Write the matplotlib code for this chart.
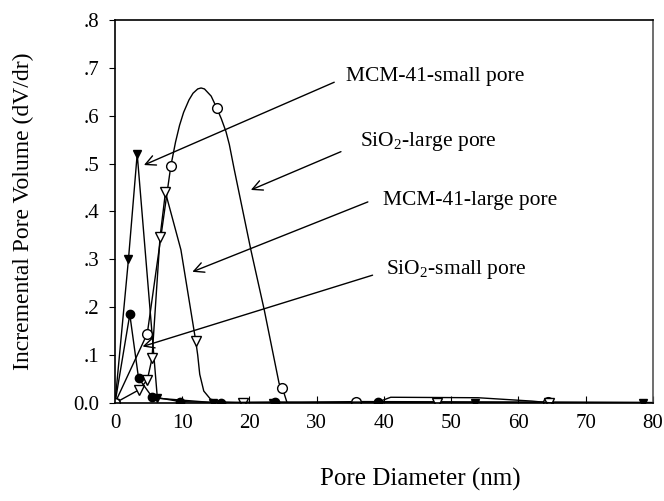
import matplotlib
matplotlib.use("Agg")
import matplotlib.pyplot as plt

plt.rcParams["font.family"] = ["Liberation Serif", "DejaVu Serif"]
plt.rcParams["mathtext.fontset"] = "custom"
plt.rcParams["mathtext.rm"] = "Liberation Serif"

# MCM-41 small pore (filled down triangles)
x_mcm_small = [0, 2.0, 3.3, 6.3, 14.5, 23.5, 35.9, 53.5, 78.5]
y_mcm_small = [0, 0.30, 0.52, 0.01, 0.001, 0.001, 0.001, 0.001, 0.001]

# SiO2 large pore (open circles), smooth curve
x_sio2_large = [0, 4.8, 8.3, 9.0, 9.6, 10.2, 11.0, 11.6, 12.3, 12.8, 13.3, 14.3, 15.1,
                15.8, 16.5, 17.0, 17.7, 20.2, 22.2, 24.4, 24.9, 25.6, 35.9, 64.4, 80]
y_sio2_large = [0, 0.145, 0.495, 0.545, 0.58, 0.607, 0.633, 0.647, 0.656, 0.658,
                0.656, 0.641, 0.617, 0.594, 0.567, 0.54, 0.49, 0.32, 0.194, 0.041,
                0.031, 0.0, 0.003, 0.002, 0.001]
mk_sio2_large = [0, 1, 2, 12, 20, 22, 23]

# MCM-41 large pore (open down triangles)
x_mcm_large = [0, 3.5, 4.8, 5.5, 6.7, 7.5, 9.8, 12.0, 12.3, 12.6, 13.2, 14.2, 16.0,
               19.1, 47.9, 64.5, 80]
y_mcm_large = [0, 0.027, 0.048, 0.093, 0.347, 0.44, 0.32, 0.13, 0.10, 0.06, 0.025,
               0.008, 0.002, 0.0, 0.0, 0.0, 0.0]
mk_mcm_large = [1, 2, 3, 4, 5, 7, 13, 14, 15]

# SiO2 small pore (filled circles)
x_sio2_small = [0, 2.2, 3.5, 5.5, 9.7, 15.7, 23.8, 39.1, 41, 54, 62, 65, 80]
y_sio2_small = [0, 0.185, 0.052, 0.013, 0.003, 0.001, 0.002, 0.002, 0.012, 0.011,
                0.004, 0.0, 0.0]
mk_sio2_small = [1, 2, 3, 4, 5, 6, 7]

yticks = [0, 0.1, 0.2, 0.3, 0.4, 0.5, 0.6, 0.7, 0.8]
ytick_labels = ["0.0", ".1", ".2", ".3", ".4", ".5", ".6", ".7", ".8"]
xticks = [0, 10, 20, 30, 40, 50, 60, 70, 80]

fig = plt.figure(figsize=(6.64, 5.01), dpi=100)
ax = fig.add_axes([0.1732, 0.1956, 0.8102, 0.7645])

ax.plot(x_mcm_small, y_mcm_small, color="black", lw=1.0, marker="v",
        ms=6, mfc="black", mec="black")
ax.plot(x_sio2_large, y_sio2_large, color="black", lw=1.0, marker="o",
        ms=7, mfc="white", mec="black", markevery=mk_sio2_large)
ax.plot(x_mcm_large, y_mcm_large, color="black", lw=1.0, marker="v",
        ms=7, mfc="white", mec="black", markevery=mk_mcm_large)
ax.plot(x_sio2_small, y_sio2_small, color="black", lw=1.0, marker="o",
        ms=6, mfc="black", mec="black", markevery=mk_sio2_small)
# open circle at origin on top
ax.plot([0], [0], marker="o", ms=7, mfc="white", mec="black", ls="none")

# annotations: (text, arrow tip, arrow tail, text pos)
notes = [
    ("MCM-41-small pore", (4.3, 0.497), (32.6, 0.670), (34.4, 0.683)),
    ("SiO$_\\mathrm{2}$-large pore", (20.2, 0.445), (33.6, 0.525), (36.5, 0.546)),
    ("MCM-41-large pore", (11.5, 0.274), (37.6, 0.42), (39.8, 0.424)),
    ("SiO$_\\mathrm{2}$-small pore", (4.1, 0.118), (38.3, 0.267), (40.3, 0.278)),
]
for label, tip, tail, pos in notes:
    ax.annotate("", xy=tip, xytext=tail,
                arrowprops=dict(arrowstyle="->", lw=1.0, color="black",
                                shrinkA=0, shrinkB=0, mutation_scale=18))
    ax.text(pos[0], pos[1], label, ha="left", va="center", fontsize=15.5)

ax.set_xlim(0, 80)
ax.set_ylim(0, 0.8)
ax.set_xticks(xticks)
ax.set_yticks(yticks)
ax.set_yticklabels(ytick_labels)
ax.tick_params(axis="x", direction="in", length=5, labelsize=15, pad=8)
ax.tick_params(axis="y", direction="out", length=4, labelsize=15, pad=7)

for s in ax.spines.values():
    s.set_linewidth(1.2)
ax.spines["right"].set_color("#555555")

ax.set_xlabel("Pore Diameter (nm)", fontsize=18)
ax.xaxis.set_label_coords(0.567, -0.17)
ax.set_ylabel("Incremental Pore Volume (dV/dr)", fontsize=17)
ax.yaxis.set_label_coords(-0.15, 0.5)

fig.savefig("out.png", dpi=100)
